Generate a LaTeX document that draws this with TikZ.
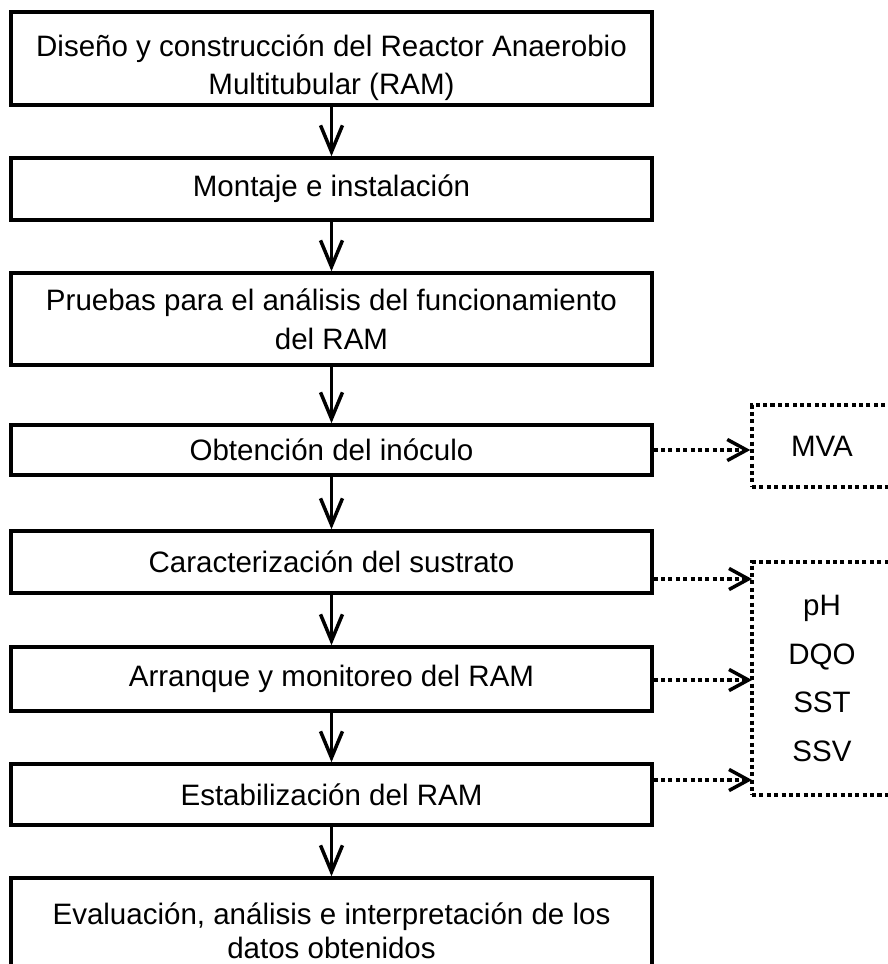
\documentclass[tikz,border=0pt]{standalone}
\usepackage{fontspec}
\setmainfont{Liberation Sans}
\usetikzlibrary{arrows.meta}

\begin{document}
\begin{tikzpicture}[x=0.02cm,y=-0.02cm,line width=2pt,
   paso/.style={draw,rectangle,inner sep=0pt,minimum width=12.82cm,align=center,font=\fontsize{16.8}{22}\selectfont},
   dato/.style={draw,rectangle,inner sep=0pt,minimum width=2.8cm,align=center,dash pattern=on 2.3pt off 1.9pt,font=\fontsize{16.8}{27.8}\selectfont},
   flecha/.style={-{Straight Barb[length=15pt,width=12.5pt]}},
   punteada/.style={dash pattern=on 2.3pt off 1.9pt,-{Straight Barb[length=11pt,width=12pt]}}]
   \useasboundingbox (0,0) rectangle (888,964);
   \clip (0,0) rectangle (888,964);
   % etapas
   \node[paso,minimum height=1.86cm] (disenio) at (331.5,58.5) {\rule{0pt}{23pt}Diseño y construcción del Reactor Anaerobio\\Multitubular (RAM)};
   \node[paso,minimum height=1.24cm] (montaje) at (331.5,189) {Montaje e instalación};
   \node[paso,minimum height=1.84cm] (pruebas) at (331.5,319) {Pruebas para el análisis del funcionamiento\\del RAM};
   \node[paso,minimum height=1cm] (inoculo) at (331.5,450) {Obtención del inóculo};
   \node[paso,minimum height=1.24cm] (sustrato) at (331.5,562) {Caracterización del sustrato};
   \node[paso,minimum height=1.28cm] (arranque) at (331.5,679) {Arranque y monitoreo del RAM};
   \node[paso,minimum height=1.22cm] (estabiliza) at (331.5,794.5) {Estabilización del RAM};
   \node[paso,minimum height=2.1cm,font=\fontsize{16.8}{19.5}\selectfont] (evalua) at (331.5,930.5) {Evaluación, análisis e interpretación de los\\datos obtenidos};
   % parametros
   \node[dato,minimum height=1.64cm] (mva) at (822,446) {MVA};
   \node[dato,minimum height=4.66cm] (param) at (822,678.5) {pH\\DQO\\SST\\SSV};
   \coordinate (e1) at (752,579);
   \coordinate (e2) at (752,680);
   \coordinate (e3) at (752,780);
   % flechas
   \draw[flecha] (disenio) -- (montaje);
   \draw[flecha] (montaje) -- (pruebas);
   \draw[flecha] (pruebas) -- (inoculo);
   \draw[flecha] (inoculo) -- (sustrato);
   \draw[flecha] (sustrato) -- (arranque);
   \draw[flecha] (arranque) -- (estabiliza);
   \draw[flecha] (estabiliza) -- (evalua);
   \draw[punteada] (inoculo.east) -- (inoculo.east -| mva.west);
   \draw[punteada] (sustrato.east |- e1) -- (e1);
   \draw[punteada] (arranque.east |- e2) -- (e2);
   \draw[punteada] (estabiliza.east |- e3) -- (e3);
\end{tikzpicture}
\end{document}
